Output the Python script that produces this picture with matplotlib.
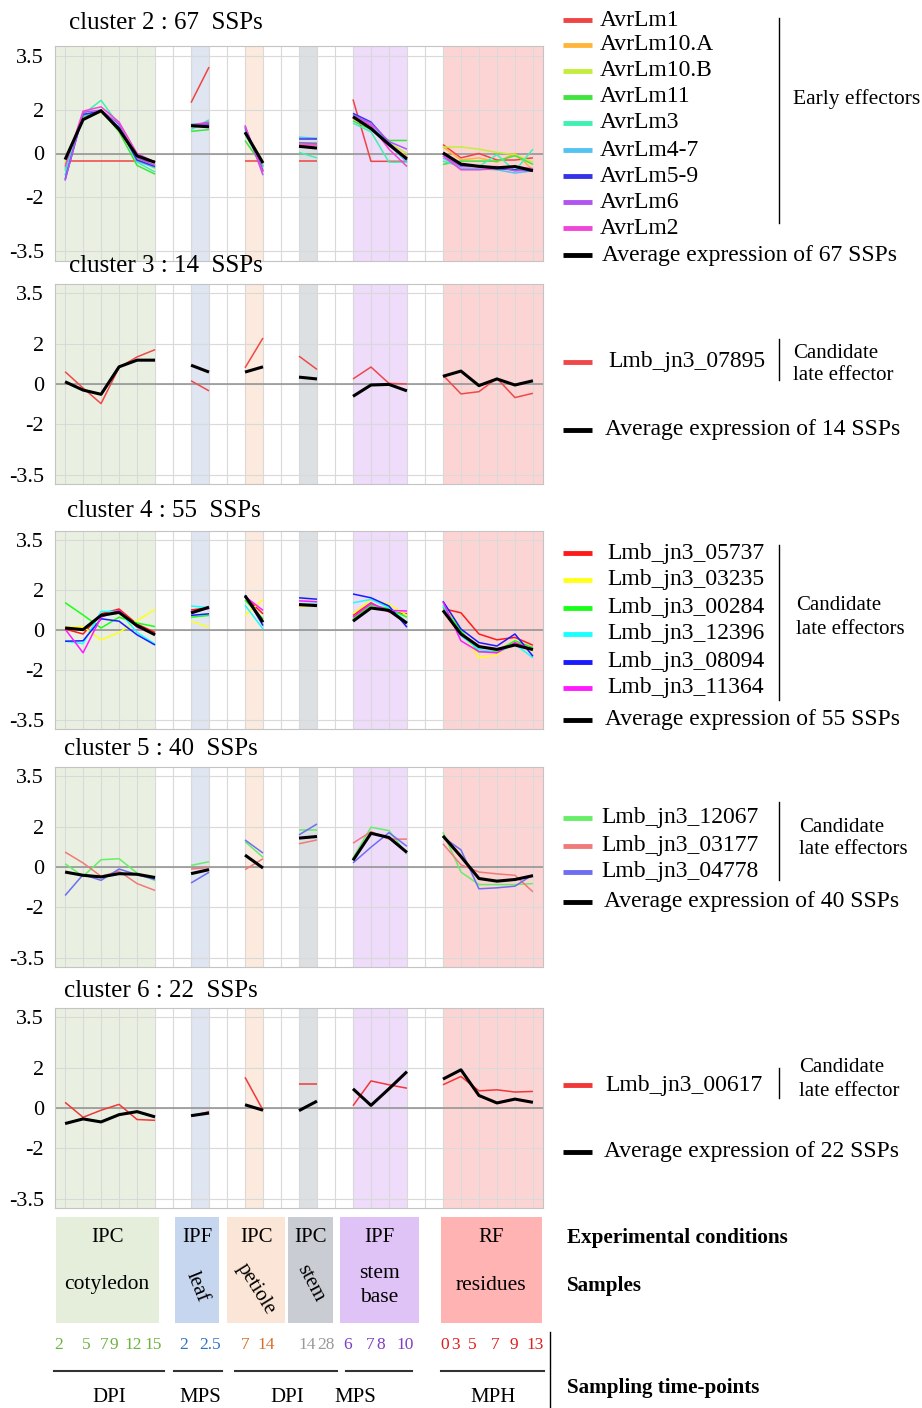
import matplotlib
matplotlib.use('Agg')
import matplotlib.pyplot as plt
from matplotlib.patches import Rectangle

plt.rcParams['font.family'] = ['Liberation Serif', 'DejaVu Serif']

# sample layout: (name, first column, number of time points)
samples = ['cotyledon', 'leaf', 'petiole', 'stem', 'stem base', 'residues']
seg_start = [0, 7, 10, 13, 16, 21]
seg_len = [6, 2, 2, 2, 4, 6]
band_colors = ['#e9f0e1', '#dfe5f1', '#fbeadd', '#dde0e3', '#eedcfa', '#fdd4d4']

# ---------------- cluster 2 : 67 SSPs ----------------
c2_names = ['AvrLm1', 'AvrLm10.A', 'AvrLm10.B', 'AvrLm11', 'AvrLm3',
            'AvrLm4-7', 'AvrLm5-9', 'AvrLm6', 'AvrLm2']
c2_colors = ['#f04444', '#ffb53a', '#c4ee3c', '#3fe43f', '#3ff0b0',
             '#55c2f2', '#3434e6', '#b055f2', '#f045d6']
c2_genes = [
    [-0.35, -0.35, -0.35, -0.35, -0.35, -0.35, 2.34, 3.98, -0.35, -0.35, -0.35, -0.35,
     2.49, -0.36, -0.36, -0.36, 0.41, -0.2, 0.0, -0.3, -0.3, -0.2],
    [-0.5, 1.7, 1.95, 1.15, -0.3, -0.55, 1.3, 1.3, 0.9, -0.5, 0.45, 0.4,
     1.6, 1.2, 0.45, -0.15, 0.3, -0.3, -0.2, -0.4, 0.0, -0.75],
    [-0.4, 1.6, 1.9, 1.1, -0.25, -0.7, 1.2, 1.4, 1.0, -0.5, 0.5, 0.45,
     1.7, 1.2, 0.5, 0.0, 0.3, 0.3, 0.2, 0.05, -0.05, -0.4],
    [-0.7, 1.7, 2.0, 1.0, -0.55, -0.95, 1.02, 1.1, 0.6, -0.6, 0.5, 0.5,
     1.5, 1.1, 0.6, 0.6, -0.5, -0.35, -0.35, -0.35, -0.1, -0.5],
    [-0.8, 1.8, 2.45, 1.3, -0.4, -0.85, 1.1, 1.55, 0.9, -0.6, 0.05, -0.2,
     1.4, 1.0, -0.4, -0.4, -0.35, -0.6, -0.6, -0.05, -0.8, 0.2],
    [-1.0, 1.75, 1.95, 1.2, -0.35, -0.65, 1.35, 1.4, 1.1, -0.6, 0.75, 0.7,
     1.8, 1.3, 0.4, -0.4, -0.2, -0.7, -0.7, -0.75, -0.9, -0.8],
    [-1.2, 1.8, 1.95, 1.2, -0.3, -0.6, 1.3, 1.35, 1.2, -0.8, 0.65, 0.65,
     1.85, 1.45, 0.5, -0.3, 0.0, -0.55, -0.6, -0.7, -0.75, -0.8],
    [-1.25, 1.9, 2.0, 1.35, -0.2, -0.55, 1.3, 1.3, 1.3, -1.0, 0.5, 0.45,
     1.75, 1.4, 0.55, 0.2, -0.1, -0.6, -0.6, -0.6, -0.8, -0.75],
    [-0.6, 1.95, 2.15, 1.45, 0.0, -0.4, 1.3, 1.45, 1.25, -0.85, 0.4, 0.4,
     1.7, 1.3, 0.2, -0.6, -0.1, -0.75, -0.75, -0.7, -0.6, -0.7],
]
c2_avg = [-0.28, 1.56, 1.97, 1.11, -0.11, -0.41, 1.28, 1.23, 0.98, -0.44, 0.33, 0.25,
          1.69, 1.15, 0.41, -0.25, 0.03, -0.49, -0.59, -0.66, -0.60, -0.79]

# ---------------- cluster 3 : 14 SSPs ----------------
c3_names = ['Lmb_jn3_07895']
c3_colors = ['#f04848']
c3_genes = [
    [0.61, -0.2, -0.97, 0.82, 1.34, 1.7, 0.16, -0.34, 0.8, 2.28, 1.38, 0.72,
     0.25, 0.84, 0.03, 0.0, 0.44, -0.49, -0.38, 0.28, -0.67, -0.46],
]
c3_avg = [0.11, -0.3, -0.51, 0.85, 1.18, 1.18, 0.93, 0.59, 0.59, 0.85, 0.34, 0.25,
          -0.61, -0.05, -0.02, -0.34, 0.38, 0.64, -0.08, 0.25, -0.05, 0.16]

# ---------------- cluster 4 : 55 SSPs ----------------
c4_names = ['Lmb_jn3_05737', 'Lmb_jn3_03235', 'Lmb_jn3_00284',
            'Lmb_jn3_12396', 'Lmb_jn3_08094', 'Lmb_jn3_11364']
c4_colors = ['#ff1a1a', '#ffff1a', '#1aff1a', '#1affff', '#1a1aff', '#ff1aff']
c4_genes = [
    [0.05, -0.2, 0.81, 1.05, 0.3, -0.12, 1.0, 1.12, 1.66, 0.81, 1.2, 1.2,
     0.73, 1.36, 0.9, 0.81, 1.07, 0.86, -0.2, -0.49, -0.37, -0.76],
    [0.14, 0.17, -0.5, -0.12, 0.47, 1.03, 0.44, 0.14, 0.73, 1.53, 1.22, 1.22,
     0.81, 1.53, 1.29, 0.73, 1.32, -0.03, -1.39, -1.25, -0.54, -1.05],
    [1.37, 0.75, 0.1, 0.64, 0.35, 0.17, 0.64, 0.73, 1.49, 0.56, 1.27, 1.25,
     0.56, 1.24, 1.07, 0.64, 1.15, -0.03, -1.1, -1.05, -0.54, -0.88],
    [-0.56, -0.68, 0.93, 0.93, -0.12, -0.71, 1.2, 1.12, 1.24, 0.05, 1.3, 1.3,
     1.36, 1.53, 1.12, 0.39, 1.24, -0.29, -0.97, -1.14, -0.71, -1.39],
    [-0.56, -0.54, 0.56, 0.44, -0.24, -0.75, 0.73, 0.81, 1.75, 0.22, 1.61, 1.54,
     1.8, 1.61, 1.2, 0.14, 1.44, 0.05, -0.63, -0.8, -0.2, -1.31],
    [0.05, -1.14, 0.64, 0.98, 0.14, -0.24, 0.93, 1.07, 1.68, 0.98, 1.46, 1.41,
     0.64, 1.32, 0.98, 0.95, 1.41, -0.54, -1.08, -1.14, -0.63, -0.97],
]
c4_avg = [0.1, 0.02, 0.73, 0.88, 0.22, -0.24, 0.85, 1.14, 1.71, 0.39, 1.27, 1.22,
          0.44, 1.1, 0.98, 0.34, 0.98, -0.2, -0.83, -0.97, -0.75, -0.98]

# ---------------- cluster 5 : 40 SSPs ----------------
c5_names = ['Lmb_jn3_12067', 'Lmb_jn3_03177', 'Lmb_jn3_04778']
c5_colors = ['#66ee66', '#f07a7a', '#6e6ef2']
c5_genes = [
    [0.16, -0.46, 0.36, 0.41, -0.3, -0.67, 0.08, 0.26, 1.26, 0.48, 1.84, 1.84,
     0.44, 1.97, 1.8, 0.64, 1.72, -0.25, -0.87, -0.87, -0.87, -0.82],
    [0.74, 0.2, -0.46, -0.21, -0.82, -1.16, -0.1, -0.02, -0.13, 0.41, 1.15, 1.34,
     1.18, 1.75, 1.38, 1.38, 1.15, 0.11, -0.25, -0.34, -0.41, -1.23],
    [-1.41, -0.38, -0.66, -0.1, -0.38, -0.62, -0.79, -0.26, 1.34, 0.69, 1.59, 2.13,
     0.2, 0.98, 1.7, 1.02, 1.48, 0.85, -1.08, -1.03, -0.95, -0.38],
]
c5_avg = [-0.25, -0.41, -0.49, -0.33, -0.36, -0.52, -0.33, -0.13, 0.59, -0.05, 1.43, 1.51,
          0.33, 1.67, 1.46, 0.72, 1.54, 0.52, -0.57, -0.7, -0.62, -0.43]

# ---------------- cluster 6 : 22 SSPs ----------------
c6_names = ['Lmb_jn3_00617']
c6_colors = ['#f03838']
c6_genes = [
    [0.28, -0.46, -0.11, 0.18, -0.57, -0.61, -0.41, -0.18, 1.52, -0.11, 1.2, 1.2,
     0.11, 1.34, 1.15, 0.98, 1.15, 1.56, 0.85, 0.9, 0.79, 0.82],
]
c6_avg = [-0.77, -0.54, -0.69, -0.33, -0.18, -0.44, -0.38, -0.25, 0.16, -0.11, -0.13, 0.34,
          0.95, 0.13, 0.95, 1.8, 1.43, 1.89, 0.62, 0.25, 0.44, 0.28]

clusters = [('cluster 2 : 67  SSPs', c2_genes, c2_colors, c2_avg),
            ('cluster 3 : 14  SSPs', c3_genes, c3_colors, c3_avg),
            ('cluster 4 : 55  SSPs', c4_genes, c4_colors, c4_avg),
            ('cluster 5 : 40  SSPs', c5_genes, c5_colors, c5_avg),
            ('cluster 6 : 22  SSPs', c6_genes, c6_colors, c6_avg)]

ytick_labels = ['3.5', '2', '0', '-2', '-3.5']

W, H = 922, 1408
fig = plt.figure(figsize=(W / 100, H / 100), dpi=100)

# panel frames in pixels (top, bottom) and title positions
panel_px = [(46, 261), (284, 484), (531, 729), (767, 967), (1008, 1208)]
title_px = [(69, 23), (69, 266), (67, 511), (64, 749), (64, 991)]
left_px, right_px = 55, 543

LEG_FS = 17


def draw_series(ax, vals, color, lw, z):
    k = 0
    for s0, n in zip(seg_start, seg_len):
        ax.plot(range(s0, s0 + n), vals[k:k + n], color=color, lw=lw,
                zorder=z, solid_capstyle='butt')
        k += n


for (title, genes, colors, avg), (top, bot), (tx, ty) in zip(clusters, panel_px, title_px):
    ax = fig.add_axes([left_px / W, 1 - bot / H, (right_px - left_px) / W, (bot - top) / H])
    ax.set_xlim(-0.56, 26.56)
    ax.set_ylim(-4.95, 4.95)
    for s0, n, c in zip(seg_start, seg_len, band_colors):
        lo = s0 if s0 > 0 else -0.56
        hi = s0 + n - 1 if s0 + n - 1 < 26 else 26.56
        ax.axvspan(lo, hi, color=c, lw=0, zorder=0.2)
    ax.set_axisbelow(True)
    ax.set_xticks(range(27))
    ax.set_xticklabels([])
    ax.set_yticks([4.5, 2, 0, -2, -4.5])
    ax.set_yticklabels(ytick_labels, fontsize=16)
    ax.tick_params(length=0, pad=8)
    ax.grid(color='#d9d9d9', lw=0.8)
    ax.axhline(0, color='#8f8f8f', lw=1.1, zorder=1)
    for sp in ax.spines.values():
        sp.set_color('#c4c4c4')
    for g, c in zip(genes, colors):
        draw_series(ax, g, c, 1.1, 2)
    draw_series(ax, avg, 'black', 2.2, 3)
    fig.text(tx / W, 1 - ty / H, title, fontsize=18, va='center', ha='left')

# overlay in pixel coordinates for legends and the bottom key
ov = fig.add_axes([0, 0, 1, 1])
ov.set_xlim(0, W)
ov.set_ylim(H, 0)
ov.axis('off')


def legend_row(y, color, label, tx):
    ov.plot([563, 592], [y, y], color=color, lw=3.5, solid_capstyle='butt')
    ov.text(tx, y, label, fontsize=LEG_FS, va='center', ha='left')


def vbar(x, y0, y1):
    ov.plot([x, x], [y0, y1], color='black', lw=1)


# cluster 2 legend
for y, c, n in zip([20, 45, 71, 97, 123, 150, 176, 202, 228], c2_colors, c2_names):
    legend_row(y, c, n, 600)
legend_row(255, 'black', 'Average expression of 67 SSPs', 602)
vbar(779, 18, 223)
ov.text(793, 99, 'Early effectors', fontsize=15.5, va='center', ha='left')

# cluster 3 legend
legend_row(362, c3_colors[0], c3_names[0], 608)
vbar(779, 339, 380)
ov.text(793, 353, 'Candidate', fontsize=15, va='center', ha='left')
ov.text(793, 376, 'late effector', fontsize=15, va='center', ha='left')
legend_row(430, 'black', 'Average expression of 14 SSPs', 605)

# cluster 4 legend
for y, c, n in zip([553, 580, 608, 634, 662, 688], c4_colors, c4_names):
    legend_row(y, c, n, 607)
vbar(779, 545, 700)
ov.text(796, 606, 'Candidate', fontsize=15, va='center', ha='left')
ov.text(796, 629, 'late effectors', fontsize=15, va='center', ha='left')
legend_row(720, 'black', 'Average expression of 55 SSPs', 605)

# cluster 5 legend
for y, c, n in zip([818, 846, 872], c5_colors, c5_names):
    legend_row(y, c, n, 601)
vbar(779, 802, 880)
ov.text(799, 827, 'Candidate', fontsize=15, va='center', ha='left')
ov.text(799, 850, 'late effectors', fontsize=15, va='center', ha='left')
legend_row(902, 'black', 'Average expression of 40 SSPs', 604)

# cluster 6 legend
legend_row(1085, c6_colors[0], c6_names[0], 605)
vbar(779, 1068, 1098)
ov.text(799, 1068, 'Candidate', fontsize=15, va='center', ha='left')
ov.text(799, 1091, 'late effector', fontsize=15, va='center', ha='left')
legend_row(1152, 'black', 'Average expression of 22 SSPs', 604)

# ---------------- bottom key ----------------
box_x = [(56, 159), (175, 219), (227, 285), (288, 333), (340, 419), (441, 542)]
box_fill = ['#e5eedb', '#c7d6ef', '#fbe5d6', '#c9cdd3', '#dfc2f6', '#ffb3b3']
conditions = ['IPC', 'IPF', 'IPC', 'IPC', 'IPF', 'RF']
for (x0, x1), fc, cond in zip(box_x, box_fill, conditions):
    ov.add_patch(Rectangle((x0, 1217), x1 - x0, 106, facecolor=fc, edgecolor='none'))
    ov.text((x0 + x1) / 2, 1237, cond, fontsize=15, ha='center', va='center')

ov.text(107, 1285, 'cotyledon', fontsize=15.5, ha='center', va='center')
ov.text(197, 1287, 'leaf', fontsize=15, ha='center', va='center', rotation=-68)
ov.text(256, 1289, 'petiole', fontsize=15, ha='center', va='center', rotation=-58)
ov.text(310, 1283, 'stem', fontsize=15, ha='center', va='center', rotation=-62)
ov.text(379, 1274, 'stem', fontsize=15.5, ha='center', va='center')
ov.text(379, 1297, 'base', fontsize=15.5, ha='center', va='center')
ov.text(491, 1285, 'residues', fontsize=15.5, ha='center', va='center')

ov.text(567, 1238, 'Experimental conditions', fontsize=15.2, fontweight='bold', va='center')
ov.text(567, 1286, 'Samples', fontsize=15.2, fontweight='bold', va='center')
ov.text(567, 1388, 'Sampling time-points', fontsize=15.2, fontweight='bold', va='center')
vbar(550, 1332, 1408)

# sampling time-points
tp_labels = [['2', '5', '7', '9', '12', '15'], ['2', '2.5'], ['7', '14'], ['14', '28'],
             ['6', '7', '8', '10'], ['0', '3', '5', '7', '9', '13']]
tp_x = [[59, 86, 104, 114, 133, 153], [184, 210], [245, 266], [307, 326],
        [348, 370, 381, 405], [445, 455, 472, 495, 514, 535]]
tp_colors = ['#6cb23f', '#2f72c4', '#d4702a', '#9a9a9a', '#7f3fbf', '#e01e1e']
for labs, xs, c in zip(tp_labels, tp_x, tp_colors):
    for lab, x in zip(labs, xs):
        ov.text(x, 1345, lab, fontsize=12.5, color=c, ha='center', va='center')

units = ['DPI', 'MPS', 'DPI', 'MPS', 'MPH']
unit_x = [109, 200, 287, 355, 493]
unit_lines = [(54, 164), (174, 222), (235, 337), (346, 412), (441, 544)]
for u, x, (x0, x1) in zip(units, unit_x, unit_lines):
    ov.plot([x0, x1], [1371, 1371], color='#333333', lw=1.5)
    ov.text(x, 1397, u, fontsize=15, ha='center', va='center')

fig.savefig('out.png', dpi=100)
